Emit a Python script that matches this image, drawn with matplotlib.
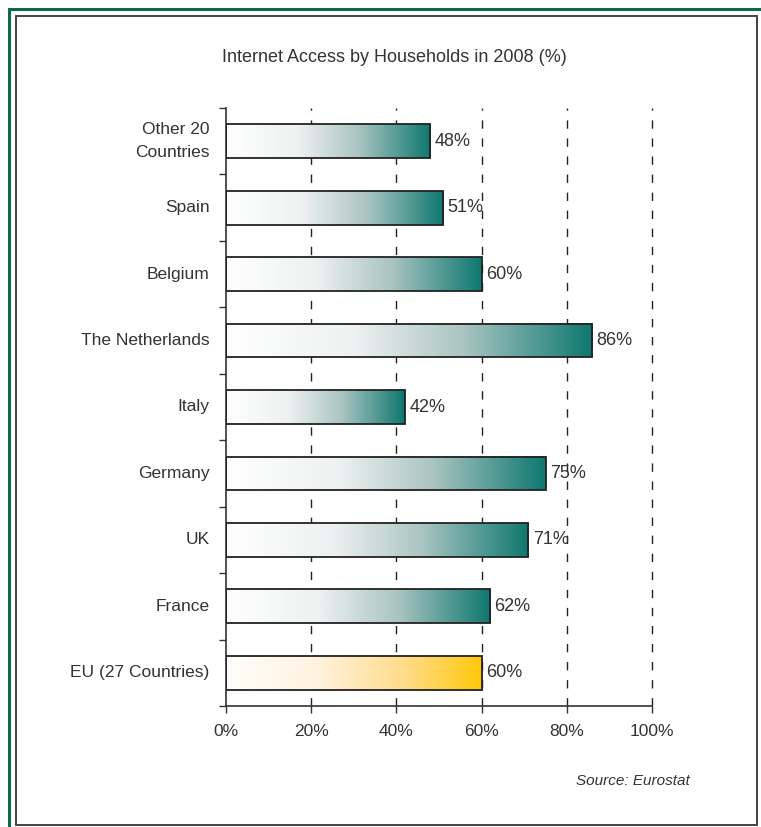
import numpy as np
import matplotlib
matplotlib.use("Agg")
import matplotlib.pyplot as plt
from matplotlib.colors import LinearSegmentedColormap
from matplotlib.patches import Rectangle
from matplotlib.lines import Line2D

plt.rcParams['font.family'] = ['Liberation Sans', 'DejaVu Sans']

countries = ["Other 20\nCountries", "Spain", "Belgium", "The Netherlands", "Italy",
             "Germany", "UK", "France", "EU (27 Countries)"]
access = [48, 51, 60, 86, 42, 75, 71, 62, 60]
highlight = "EU (27 Countries)"
xticks = [0, 20, 40, 60, 80, 100]

text_col = "#333333"
teal_cmap = LinearSegmentedColormap.from_list(
    "teal", [(0.0, "#ffffff"), (0.35, "#eef1f1"), (0.65, "#a9c4c1"), (1.0, "#0e7870")])
gold_cmap = LinearSegmentedColormap.from_list(
    "gold", [(0.0, "#fffdfa"), (0.35, "#fff3e0"), (0.7, "#ffdc8a"), (1.0, "#ffc80a")])

fig = plt.figure(figsize=(7.61, 8.27), dpi=100)
ax = fig.add_axes([226 / 761, 1 - 706 / 827, 426 / 761, 598 / 827])

ypos = np.arange(len(countries))
bar_h = 0.51
grad = np.linspace(0, 1, 256).reshape(1, -1)

for y, name, v in zip(ypos, countries, access):
    cmap = gold_cmap if name == highlight else teal_cmap
    ax.imshow(grad, cmap=cmap, aspect="auto", interpolation="bilinear",
              extent=[0, v, y + bar_h / 2, y - bar_h / 2], zorder=2)
    ax.add_patch(Rectangle((0, y - bar_h / 2), v, bar_h, fill=False,
                           edgecolor="#222222", linewidth=1.3, zorder=3))
    ax.text(v + 1.0, y, f"{v}%", va="center", ha="left", fontsize=13, color=text_col, zorder=4)

for x in xticks[1:]:
    ax.axvline(x, color="#222222", linewidth=1.0, linestyle=(0, (6, 7)), zorder=1,
               clip_on=False)

ax.set_xlim(0, 100)
ax.set_ylim(len(countries) - 0.5, -0.5)
ax.set_xticks(xticks)
ax.set_xticklabels([f"{x}%" for x in xticks], fontsize=12.5, color=text_col)
ax.set_yticks(ypos)
ax.set_yticklabels(countries, fontsize=12.5, color=text_col, linespacing=1.65)
for lbl in ax.get_yticklabels():
    lbl.set_verticalalignment("center")
ax.set_yticks(np.arange(-0.5, len(countries), 1.0), minor=True)
ax.tick_params(axis="y", which="major", length=0, pad=12)
ax.tick_params(axis="y", which="minor", length=5, width=1, color="#333333")
ax.tick_params(axis="x", length=5, width=1, color="#333333", pad=8)

for side in ["top", "right"]:
    ax.spines[side].set_visible(False)
for side in ["left", "bottom"]:
    ax.spines[side].set_color("#333333")
    ax.spines[side].set_linewidth(1.2)

fig.text(394 / 761, 1 - 58 / 827, "Internet Access by Households in 2008 (%)",
         ha="center", va="center", fontsize=13, color=text_col)
fig.text(690 / 761, 1 - 781 / 827, "Source: Eurostat", ha="right", va="center",
         fontsize=11, style="italic", color=text_col)

# outer green frame and inner gray box
def px_line(x0, y0, x1, y1, **kw):
    fig.add_artist(Line2D([x0 / 761, x1 / 761], [1 - y0 / 827, 1 - y1 / 827],
                          transform=fig.transFigure, **kw))

px_line(9, 9, 9, 827, color="#0b6b46", linewidth=2.2)
px_line(9, 9, 761, 9, color="#0b6b46", linewidth=2.2)
fig.add_artist(Rectangle((16 / 761, 1 - 825 / 827), 741 / 761, 809 / 827,
                         transform=fig.transFigure, fill=False,
                         edgecolor="#444444", linewidth=1.4))

fig.savefig("out.png", dpi=100)
